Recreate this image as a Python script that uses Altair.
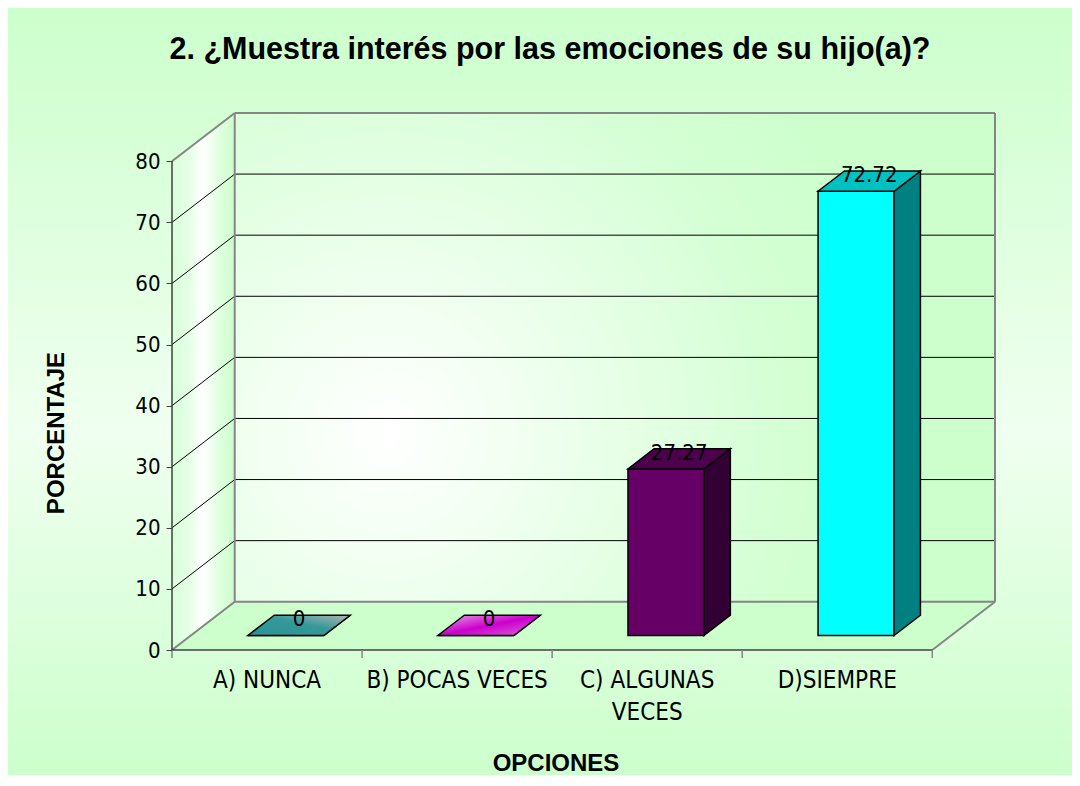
import altair as alt
import pandas as pd

# ---------------- data ----------------
categories = ["A) NUNCA", "B) POCAS VECES", "C) ALGUNAS\nVECES", "D)SIEMPRE"]
values = [0, 0, 27.27, 72.72]
value_labels = ["0", "0", "27.27", "72.72"]
y_ticks = [0, 10, 20, 30, 40, 50, 60, 70, 80]

front_colors = ["#339999", "#cc33cc", "#660066", "#00ffff"]
side_colors = ["#1f5c5c", "#7a1f7a", "#330033", "#008080"]
top_colors = ["#2e8a8a", "#b82eb8", "#4d004d", "#00c0c0"]

title_text = "2. ¿Muestra interés por las emociones de su hijo(a)?"
y_title = "PORCENTAJE"
x_title = "OPCIONES"

# ---------------- geometry / style ----------------
W, H = 823, 537
PAD = {"left": 164, "top": 105, "right": 77, "bottom": 125}
DX = 0.33      # depth of the 3-D box, in category units
DY = 7.9       # depth of the 3-D box, in value units
YMAX = 80
F0, F1 = 0.30, 0.72   # front / back depth fraction of the bars
HALF = 0.20           # half bar width (category units)
N = len(categories)

NARROW = "Liberation Sans Narrow, Arial Narrow, DejaVu Sans Condensed, sans-serif"
BOLD = "Liberation Sans, Arial, sans-serif"
GRAY = "#858585"
DARK = "#404040"

xscale = alt.Scale(domain=[0, N + DX], nice=False, zero=False)
yscale = alt.Scale(domain=[0, YMAX + DY], nice=False, zero=False)
yaxis = alt.Axis(values=y_ticks, grid=False, domain=False, ticks=True,
                 tickColor=DARK, tickSize=6, tickWidth=1,
                 labelFont=NARROW, labelFontSize=22, labelColor="black",
                 labelPadding=6, labelFlush=False, labelOverlap=False,
                 title=None, zindex=2)


def X(f):
    return alt.X(f, type="quantitative", scale=xscale, axis=None)


def Y(f):
    return alt.Y(f, type="quantitative", scale=yscale, axis=yaxis)


# ---------------- derived tables ----------------
front_rows, side_rows, top_rows, label_rows, cat_rows = [], [], [], [], []
for i, (c, v) in enumerate(zip(categories, values)):
    xl = i + 0.5 - HALF
    xr = i + 0.5 + HALF
    front_rows.append(dict(cat=c, x0=xl + F0 * DX, x1=xr + F0 * DX,
                           y0=F0 * DY, y1=v + F0 * DY, col=front_colors[i]))
    for f in (F0, F1):
        side_rows.append(dict(cat=c, x=xr + f * DX, y=f * DY, y2=v + f * DY,
                              col=side_colors[i]))
        top_rows.append(dict(cat=c, idx=i, y=v + f * DY, x=xl + f * DX,
                             x2=xr + f * DX, col=top_colors[i]))
    label_rows.append(dict(cat=c, x=i + 0.5 + (F0 + F1) / 2 * DX,
                           y=v + (F0 + F1) / 2 * DY, lab=value_labels[i]))
    cat_rows.append(dict(cat=c, x=i + 0.5))

front = pd.DataFrame(front_rows)
side = pd.DataFrame(side_rows)
top = pd.DataFrame(top_rows)
labels = pd.DataFrame(label_rows)
cats = pd.DataFrame(cat_rows)

grid_rows = []
for t in y_ticks:
    edge = t in (y_ticks[0], y_ticks[-1])
    col = GRAY if edge else "black"
    sw = 2 if edge else 1
    grid_rows.append(dict(x=DX, x2=N + DX, y=t + DY, y2=t + DY, col=col, sw=sw))
    grid_rows.append(dict(x=0, x2=DX, y=t, y2=t + DY, col=col, sw=sw))
grid_rows += [
    dict(x=DX, x2=DX, y=DY, y2=YMAX + DY, col=GRAY, sw=2),
    dict(x=N + DX, x2=N + DX, y=DY, y2=YMAX + DY, col=GRAY, sw=2),
    dict(x=N, x2=N + DX, y=0, y2=DY, col=GRAY, sw=2),
    dict(x=0, x2=0, y=0, y2=YMAX, col=DARK, sw=1.5),
    dict(x=0, x2=N, y=0, y2=0, col=DARK, sw=1.5),
]
grid = pd.DataFrame(grid_rows)

bounds = pd.DataFrame({"x": list(range(N + 1))})

wall_back = pd.DataFrame([dict(x=DX, x2=N + DX, y=DY, y2=YMAX + DY)])
wall_left = pd.DataFrame([dict(x=0, y=0, y2=YMAX), dict(x=DX, y=DY, y2=YMAX + DY)])
floor = pd.DataFrame([dict(y=0, x=0, x2=N), dict(y=DY, x=DX, x2=N + DX)])
one = pd.DataFrame([{"k": 1}])


def stops(*pairs):
    return [alt.GradientStop(offset=o, color=c) for o, c in pairs]


bg_grad = alt.LinearGradient(gradient="linear", x1=0, y1=0, x2=0, y2=1,
                             stops=stops((0, "#ccffcc"), (0.55, "#f0fff0"), (1, "#ccffcc")))
back_grad = alt.RadialGradient(gradient="radial", x1=0.2, y1=0.6, r1=0.0,
                               x2=0.2, y2=0.6, r2=0.7,
                               stops=stops((0, "#ffffff"), (0.2, "#f4fff4"),
                                           (0.75, "#d4ffd4"), (1, "#ccffcc")))
left_grad = alt.LinearGradient(gradient="linear", x1=0, y1=0, x2=1, y2=0,
                               stops=stops((0, "#d8ffd8"), (0.25, "#e4ffe4"),
                                           (0.5, "#ffffff"), (0.75, "#e0ffe0"),
                                           (1, "#ccffcc")))
a_grad = alt.LinearGradient(gradient="linear", x1=0, y1=1, x2=1, y2=0,
                            stops=stops((0, "#2a9494"), (0.55, "#339999"), (1, "#b4b4b4")))
b_grad = alt.LinearGradient(gradient="linear", x1=0, y1=0, x2=1, y2=1,
                            stops=stops((0, "#e8a8e8"), (0.5, "#cc00cc"), (1, "#dd66dd")))

# ---------------- layers ----------------
background = alt.Chart(one).mark_rect(fill=bg_grad).encode(
    x=alt.value(-PAD["left"]), x2=alt.value(W + PAD["right"]),
    y=alt.value(-PAD["top"]), y2=alt.value(H + PAD["bottom"]))

back = alt.Chart(wall_back).mark_rect(fill=back_grad).encode(
    x=X("x"), x2="x2", y=Y("y"), y2="y2")

left = alt.Chart(wall_left).mark_area(fill=left_grad, orient="vertical").encode(
    x=X("x"), y=Y("y"), y2="y2")

flo = alt.Chart(floor).mark_area(fill="#ccffcc", orient="horizontal").encode(
    y=Y("y"), x=X("x"), x2="x2")

lines = alt.Chart(grid).mark_rule().encode(
    x=X("x"), x2="x2", y=Y("y"), y2="y2",
    stroke=alt.Stroke("col:N", scale=None),
    strokeWidth=alt.StrokeWidth("sw:Q", scale=None))

xticks = alt.Chart(bounds).mark_rule(stroke=GRAY, strokeWidth=1.5).encode(
    x=X("x"), y=alt.value(H), y2=alt.value(H + 8))

fronts = alt.Chart(front).mark_rect(stroke="black", strokeWidth=1.5).encode(
    x=X("x0"), x2="x1", y=Y("y0"), y2="y1",
    fill=alt.Fill("col:N", scale=None))

sides = alt.Chart(side).mark_area(stroke="black", strokeWidth=1.5,
                                  orient="vertical").encode(
    x=X("x"), y=Y("y"), y2="y2",
    fill=alt.Fill("col:N", scale=None), detail="cat:N")

tops_main = alt.Chart(top).transform_filter("datum.idx >= 2").mark_area(
    stroke="black", strokeWidth=1.5, orient="horizontal").encode(
    y=Y("y"), x=X("x"), x2="x2",
    fill=alt.Fill("col:N", scale=None), detail="cat:N")

top_a = alt.Chart(top).transform_filter("datum.idx == 0").mark_area(
    stroke="black", strokeWidth=1.5, orient="horizontal", fill=a_grad).encode(
    y=Y("y"), x=X("x"), x2="x2")

top_b = alt.Chart(top).transform_filter("datum.idx == 1").mark_area(
    stroke="black", strokeWidth=1.5, orient="horizontal", fill=b_grad).encode(
    y=Y("y"), x=X("x"), x2="x2")

vlabels = alt.Chart(labels).mark_text(font=NARROW, fontSize=22, color="black",
                                      baseline="alphabetic", align="center",
                                      dy=1).encode(
    x=X("x"), y=Y("y"), text="lab:N")

clabels = alt.Chart(cats).mark_text(font=NARROW, fontSize=24, color="black",
                                    baseline="alphabetic", align="center",
                                    lineBreak="\n", lineHeight=32).encode(
    x=X("x"), y=alt.value(H + 38), text="cat:N")

ttl = alt.Chart(one).mark_text(font=BOLD, fontSize=30.5, fontWeight="bold",
                               color="black", align="center",
                               baseline="alphabetic").encode(
    x=alt.value(378), y=alt.value(-54), text=alt.value(title_text))

ytl = alt.Chart(one).mark_text(font=BOLD, fontSize=24, fontWeight="bold",
                               color="black", align="center", baseline="middle",
                               angle=270).encode(
    x=alt.value(-115), y=alt.value(320), text=alt.value(y_title))

xtl = alt.Chart(one).mark_text(font=BOLD, fontSize=24, fontWeight="bold",
                               color="black", align="center",
                               baseline="alphabetic").encode(
    x=alt.value(384), y=alt.value(658), text=alt.value(x_title))

chart = alt.layer(
    background, back, left, flo, lines, xticks,
    fronts, sides, tops_main, top_a, top_b,
    vlabels, clabels, ttl, ytl, xtl
).properties(
    width=W, height=H, padding=PAD,
    autosize=alt.AutoSizeParams(type="none"),
    background="white",
).configure_view(stroke=None)

chart.save("out.html", embed_options={"renderer": "svg", "actions": False})
